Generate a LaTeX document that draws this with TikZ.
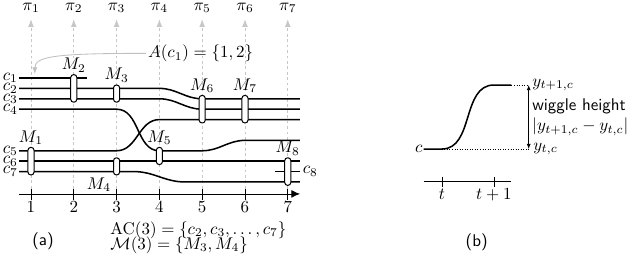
\documentclass[tikz,border=0pt]{standalone}
\usepackage{amsmath}
\usetikzlibrary{arrows.meta,positioning}

\begin{document}
\begin{tikzpicture}[x=0.887cm, y=0.2155cm,
    chain/.style={line width=0.9pt},
    mbox/.style={draw, fill=white, line width=0.6pt, rounded corners=1.7pt, inner sep=0pt,
      minimum width=3.6pt, minimum height=#1*0.2155cm+4pt},
    mlabel/.style={inner sep=1pt},
    clabel/.style={left, inner sep=0.5pt},
    pidash/.style={black!22, line width=0.5pt, dash pattern=on 1.6pt off 1.6pt,
      -{Latex[length=4.5pt,width=3.4pt]}},
  ]
    \useasboundingbox (0.276,7.5) rectangle (15.16,-17.4);
    % panel (a)
    \foreach \t in {1,...,7} {
      \node[inner sep=1pt] (pi\t) at (\t,6.73) {$\pi_{\t}$};
      \draw[pidash, shorten >=2.5pt] (\t,-11.15) -- (pi\t.south);
    }
    \draw[-{Latex[length=5pt,width=4.5pt]}] (0.72,-11.15) -- (7.285,-11.15);
    \foreach \t in {1,...,7}
      \draw (\t,-10.67) -- (\t,-11.73) node[below, inner sep=1pt] (tk\t) {$\t$};

    \draw[chain] (0.72,0) -- (2.3,0);
    \draw[chain] (0.72,-1) -- (4,-1) to[out=0,in=180] (5,-2) -- (7.285,-2);
    \draw[chain] (0.72,-2) -- (4,-2) to[out=0,in=180] (5,-3) -- (7.285,-3);
    \draw[chain] (0.72,-3) -- (3,-3) to[out=0,in=180] (4,-7) -- (5,-7)
      to[out=0,in=180] (6,-6) -- (7.285,-6);
    \draw[chain] (0.72,-7) -- (3,-7) to[out=0,in=180] (4,-4) -- (7.285,-4);
    \draw[chain] (0.72,-8) -- (7.285,-8);
    \draw[chain] (0.72,-9) -- (3.4,-9) to[out=0,in=180] (4.6,-10) -- (7.285,-10);
    \draw[chain] (6.7,-9) -- (7.285,-9);
    \foreach \k in {1,...,4}
      \node[clabel] (c\k) at (0.72,1-\k) {$c_{\k}$};
    \foreach \k in {5,6,7}
      \node[clabel] (c\k) at (0.72,-2-\k) {$c_{\k}$};
    \node[right, inner sep=1.5pt] (c8) at (7.285,-9) {$c_8$};

    \node[mbox=2] (m1) at (1,-8) {};
    \node[mbox=2] (m2) at (2,-1) {};
    \node[mbox=1] (m3) at (3,-1.5) {};
    \node[mbox=1] (m4) at (3,-8.5) {};
    \node[mbox=1] (m5) at (4,-7.5) {};
    \node[mbox=2] (m6) at (5,-3) {};
    \node[mbox=2] (m7) at (6,-3) {};
    \node[mbox=2] (m8) at (7,-9) {};
    \node[mlabel, above=0pt of m1] (lm1) {$M_1$};
    \node[mlabel, above=0pt of m2] (lm2) {$M_2$};
    \node[mlabel, above=0pt of m3] (lm3) {$M_3$};
    \node[mlabel, below left=0pt and 0pt of m4] (lm4) {$M_4$};
    \node[mlabel, above=0pt of m5] (lm5) {$M_5$};
    \node[mlabel, above=0pt of m6] (lm6) {$M_6$};
    \node[mlabel, above=0pt of m7] (lm7) {$M_7$};
    \node[mlabel, above=0pt of m8] (lm8) {$M_8$};

    \node[anchor=west, inner sep=1pt] (ac1) at (3.69,2.37) {$A(c_1)=\{1,2\}$};
    \coordinate (c1top) at (1.09,0.38);
    \draw[black!25, line width=0.5pt, -{Latex[length=4pt,width=3pt]}]
      (ac1.west) .. controls (1.6,2.37) and (1.09,2.1) .. (c1top);

    \node[anchor=west, inner sep=1pt, align=left] (act) at (2.81,-15.33)
      {$\mathrm{AC}(3)=\{c_2,c_3,\ldots,c_7\}$\\[-3.1pt]$\mathcal{M}(3)=\{M_3,M_4\}$};
    \node (la) at (1.28,-15.74) {\textsf{(a)}};

    % panel (b)
    \begin{scope}[shift={(9.402cm,-1.472cm)}, x=1.078cm, y=1.326cm]
      \node[left, inner sep=0.5pt] (c) at (-0.352,0) {$c$};
      \draw[densely dotted, line width=0.5pt] (0,0) -- (1.67,0);
      \draw[densely dotted, line width=0.5pt] (1.338,1) -- (1.67,1);
      \draw[chain] (c.east) -- (0,0) to[out=0,in=180] (1,1) -- (1.338,1);
      \draw[line width=0.5pt, {Latex[length=3pt,width=2.4pt]}-{Latex[length=3pt,width=2.4pt]}]
        (1.67,0) -- (1.67,1);
      \node[right, inner sep=1pt] (ytop) at (1.7,1) {$y_{t+1,c}$};
      \node[right, inner sep=1pt] (ybot) at (1.72,0) {$y_{t,c}$};
      \node[right, inner sep=1pt, align=left] (wh) at (1.7,0.5)
        {\textsf{wiggle height}\\$|y_{t+1,c}-y_{t,c}|$};
      \draw (-0.352,-0.51) -- (1.338,-0.51);
      \draw (0,-0.433) -- (0,-0.589) node[below, inner sep=1pt] (tt) {$t$};
      \draw (1,-0.433) -- (1,-0.589) node[below, inner sep=1pt] (tt1) {$t+1$};
      \node (lb) at (0.67,-1.45) {\textsf{(b)}};
    \end{scope}
\end{tikzpicture}
\end{document}
